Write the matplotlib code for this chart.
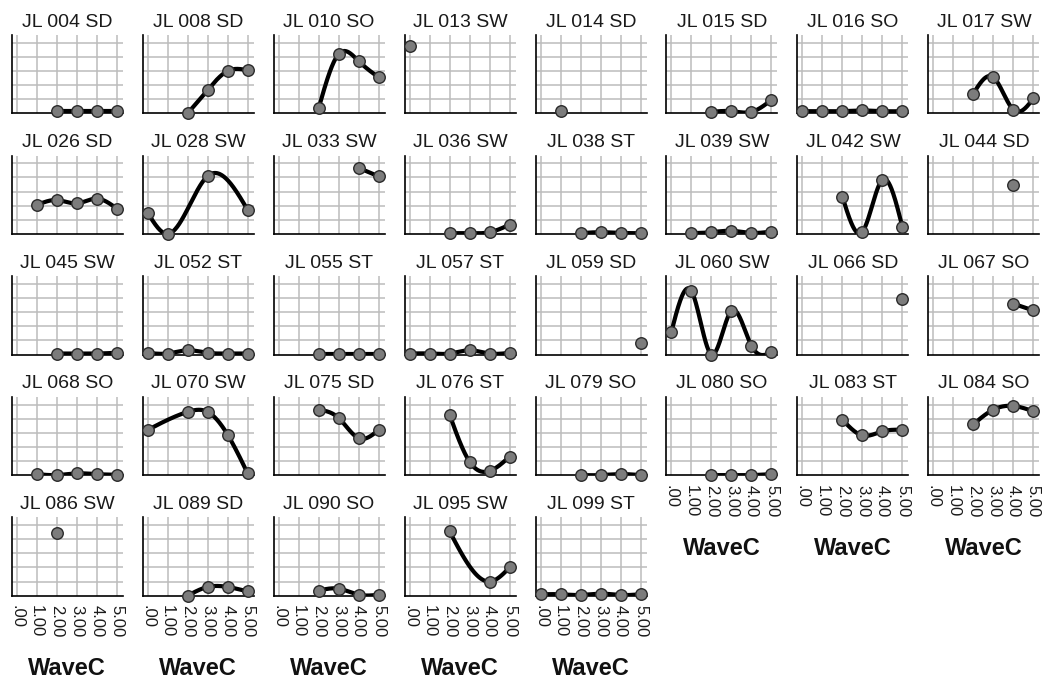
import numpy as np
import matplotlib
matplotlib.use("Agg")
import matplotlib.pyplot as plt

plt.rcParams['font.family'] = ['Liberation Sans', 'DejaVu Sans']

# ---------------- data ----------------
panel_titles = [
    "JL 004 SD", "JL 008 SD", "JL 010 SO", "JL 013 SW", "JL 014 SD", "JL 015 SD", "JL 016 SO", "JL 017 SW",
    "JL 026 SD", "JL 028 SW", "JL 033 SW", "JL 036 SW", "JL 038 ST", "JL 039 SW", "JL 042 SW", "JL 044 SD",
    "JL 045 SW", "JL 052 ST", "JL 055 ST", "JL 057 ST", "JL 059 SD", "JL 060 SW", "JL 066 SD", "JL 067 SO",
    "JL 068 SO", "JL 070 SW", "JL 075 SD", "JL 076 ST", "JL 079 SO", "JL 080 SO", "JL 083 ST", "JL 084 SO",
    "JL 086 SW", "JL 089 SD", "JL 090 SO", "JL 095 SW", "JL 099 ST",
]

panel_x = [
    [2, 3, 4, 5], [2, 3, 4, 5], [2, 3, 4, 5], [0], [1], [2, 3, 4, 5], [0, 1, 2, 3, 4, 5], [2, 3, 4, 5],
    [1, 2, 3, 4, 5], [0, 1, 3, 5], [4, 5], [2, 3, 4, 5], [2, 3, 4, 5], [1, 2, 3, 4, 5], [2, 3, 4, 5], [4],
    [2, 3, 4, 5], [0, 1, 2, 3, 4, 5], [2, 3, 4, 5], [0, 1, 2, 3, 4, 5], [5], [0, 1, 2, 3, 4, 5], [5], [4, 5],
    [1, 2, 3, 4, 5], [0, 2, 3, 4, 5], [2, 3, 4, 5], [2, 3, 4, 5], [2, 3, 4, 5], [2, 3, 4, 5], [2, 3, 4, 5], [2, 3, 4, 5],
    [2], [2, 3, 4, 5], [2, 3, 4, 5], [2, 4, 5], [0, 1, 2, 3, 4, 5],
]

panel_y = [
    [0.15, 0.15, 0.15, 0.15], [0.0, 1.65, 3.0, 3.05], [0.35, 4.2, 3.7, 2.55], [4.8], [0.15],
    [0.1, 0.15, 0.1, 0.95], [0.15, 0.15, 0.15, 0.2, 0.15, 0.15], [1.4, 2.55, 0.25, 1.05],
    [2.04, 2.4, 2.16, 2.5, 1.8], [1.5, 0.0, 4.1, 1.7], [4.68, 4.08], [0.05, 0.05, 0.12, 0.65],
    [0.05, 0.12, 0.07, 0.05], [0.05, 0.12, 0.22, 0.07, 0.17], [2.64, 0.15, 3.84, 0.48], [3.48],
    [0.07, 0.07, 0.07, 0.12], [0.12, 0.07, 0.3, 0.12, 0.07, 0.07], [0.07, 0.07, 0.07, 0.07],
    [0.07, 0.07, 0.07, 0.3, 0.07, 0.12], [0.8], [1.62, 4.5, 0.0, 3.1, 0.62, 0.15], [3.93], [3.6, 3.12],
    [0.07, 0.0, 0.12, 0.07, 0.02], [3.2, 4.48, 4.48, 2.86, 0.12], [4.64, 4.05, 2.62, 3.2], [4.29, 0.95, 0.29, 1.31],
    [0.0, 0.0, 0.07, 0.0], [0.0, 0.0, 0.0, 0.07], [3.93, 2.81, 3.1, 3.21], [3.6, 4.64, 4.9, 4.52],
    [4.47], [0.0, 0.62, 0.62, 0.3], [0.36, 0.5, 0.07, 0.07], [4.57, 1.0, 2.0], [0.1, 0.1, 0.05, 0.15, 0.05, 0.1],
]

tick_values = [0, 1, 2, 3, 4, 5]
tick_labels = [".00", "1.00", "2.00", "3.00", "4.00", "5.00"]
x_label = "WaveC"


def natural_spline(x, y, n=300):
    x = np.asarray(x, float)
    y = np.asarray(y, float)
    k = len(x)
    if k < 3:
        xs = np.linspace(x[0], x[-1], n)
        return xs, np.interp(xs, x, y)
    h = np.diff(x)
    A = np.zeros((k, k))
    b = np.zeros(k)
    A[0, 0] = 1
    A[-1, -1] = 1
    for i in range(1, k - 1):
        A[i, i - 1] = h[i - 1]
        A[i, i] = 2 * (h[i - 1] + h[i])
        A[i, i + 1] = h[i]
        b[i] = 3 * ((y[i + 1] - y[i]) / h[i] - (y[i] - y[i - 1]) / h[i - 1])
    c = np.linalg.solve(A, b)
    xs_all, ys_all = [], []
    for i in range(k - 1):
        d = (c[i + 1] - c[i]) / (3 * h[i])
        bb = (y[i + 1] - y[i]) / h[i] - h[i] * (2 * c[i] + c[i + 1]) / 3
        t = np.linspace(0, h[i], 60)
        xs_all.append(x[i] + t)
        ys_all.append(y[i] + bb * t + c[i] * t ** 2 + d * t ** 3)
    return np.concatenate(xs_all), np.concatenate(ys_all)


W, H = 1042, 686
fig = plt.figure(figsize=(W / 100, H / 100), dpi=100)

ncols = 8
col_left0, col_step, ax_w = 11.7, 130.95, 111.0
row_base0, row_step, ax_h = 113.3, 120.6, 78.3

grid_color = "#bcbcbc"
n_panels = len(panel_titles)
for idx in range(n_panels):
    r, c = divmod(idx, ncols)
    left = col_left0 + col_step * c
    base = row_base0 + row_step * r
    ax = fig.add_axes([left / W, (H - base) / H, ax_w / W, ax_h / H])
    ax.set_xlim(-0.25, 5.3)
    ax.set_ylim(0, 5.55)
    for v in tick_values:
        ax.axvline(v, color=grid_color, lw=1.1, zorder=1)
    for v in [1, 2, 3, 4, 5]:
        ax.axhline(v, color=grid_color, lw=1.1, zorder=1)
    xs, ys = panel_x[idx], panel_y[idx]
    if len(xs) > 1:
        sx, sy = natural_spline(xs, ys)
        ax.plot(sx, sy, color="black", lw=3.0, zorder=3, solid_capstyle="round")
    ax.plot(xs, ys, linestyle="none", marker="o", markersize=8.3,
            markerfacecolor="#7c7c7c", markeredgecolor="#2a2a2a", markeredgewidth=1.0,
            zorder=4, clip_on=False)
    for s in ["top", "right"]:
        ax.spines[s].set_visible(False)
    for s in ["left", "bottom"]:
        ax.spines[s].set_linewidth(1.2)
        ax.spines[s].set_color("black")
        ax.spines[s].set_zorder(2)
    ax.set_yticks([])
    ax.set_xticks(tick_values)
    ax.tick_params(axis="x", length=0, pad=7)
    ax.set_title(panel_titles[idx], fontsize=14, pad=6, color="#1a1a1a")
    is_bottom = (idx + ncols >= n_panels)
    if is_bottom:
        ax.set_xticklabels(tick_labels, rotation=270, fontsize=12, color="#1a1a1a")
        ax.set_xlabel(x_label, fontsize=17, fontweight="bold", color="#111111", va="center")
        ax.xaxis.set_label_coords(0.5, -73.0 / ax_h)
    else:
        ax.set_xticklabels([])

fig.savefig("out.png", dpi=100)
